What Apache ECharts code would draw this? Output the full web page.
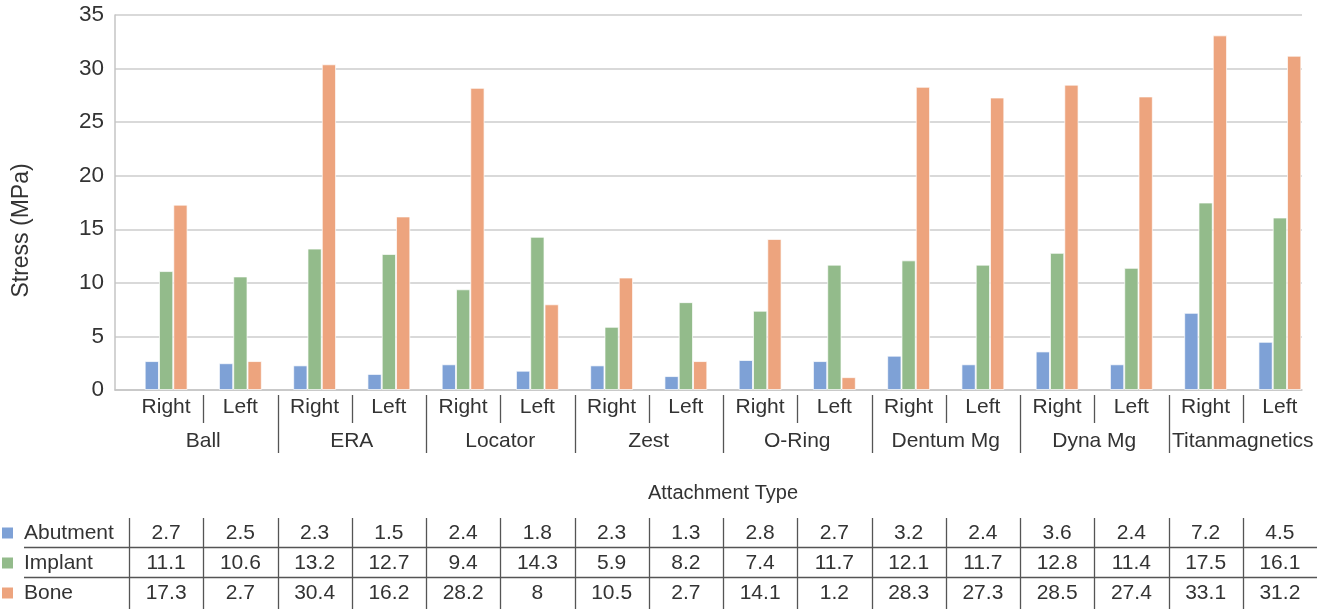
<!DOCTYPE html>
<html>
<head>
<meta charset="utf-8">
<script src="https://cdn.jsdelivr.net/npm/echarts@6/dist/echarts.min.js"></script>
<style>
html,body{margin:0;padding:0;background:#fff;}
#chart{width:1330px;height:609px;}
</style>
</head>
<body>
<div id="chart"></div>
<script>
// ---- data ----
const categories = ['Right','Left','Right','Left','Right','Left','Right','Left','Right','Left','Right','Left','Right','Left','Right','Left'];
const groups = ['Ball','ERA','Locator','Zest','O-Ring','Dentum Mg','Dyna Mg','Titanmagnetics'];
const seriesNames = ['Abutment','Implant','Bone'];
const abutment = [2.7,2.5,2.3,1.5,2.4,1.8,2.3,1.3,2.8,2.7,3.2,2.4,3.6,2.4,7.2,4.5];
const implant = [11.1,10.6,13.2,12.7,9.4,14.3,5.9,8.2,7.4,11.7,12.1,11.7,12.8,11.4,17.5,16.1];
const bone = [17.3,2.7,30.4,16.2,28.2,8,10.5,2.7,14.1,1.2,28.3,27.3,28.5,27.4,33.1,31.2];
const yTicks = [0,5,10,15,20,25,30,35];
const xTitle = 'Attachment Type';
const yTitle = 'Stress (MPa)';

// ---- style ----
const colors = ['#7ea1d6','#93bb8b','#eda47e'];
const FONT = 'Liberation Sans, Arial, sans-serif';
const TXT = '#333';
const LINE = '#555';

const chart = echarts.init(document.getElementById('chart'), null, {renderer:'canvas'});

const yMin = yTicks[0], yMax = yTicks[yTicks.length-1], yStep = yTicks[1]-yTicks[0];
const gridTop = 15, gridBottom = 219;

const allSeries = [abutment, implant, bone];

chart.setOption({
  animation:false,
  textStyle:{fontFamily:FONT},
  grid:[
    {left:129, right:13, top:gridTop, bottom:gridBottom},
    {left:115, right:28, top:gridTop, bottom:gridBottom}
  ],
  xAxis:[
    {type:'category', gridIndex:0, data:categories, position:'bottom',
     axisLine:{show:false}, axisTick:{show:false},
     axisLabel:{fontSize:21, color:TXT, margin:7, lineHeight:21, interval:0, fontFamily:FONT}},
    {type:'category', gridIndex:0, data:groups, position:'bottom', offset:34,
     axisLine:{show:false}, axisTick:{show:false},
     axisLabel:{fontSize:21, color:TXT, margin:7, lineHeight:21, interval:0, fontFamily:FONT},
     name:xTitle, nameLocation:'middle', nameGap:59,
     nameTextStyle:{fontSize:20, color:TXT, fontFamily:FONT}},
    {type:'value', gridIndex:1, min:0, max:1, show:true,
     axisLine:{show:true, lineStyle:{color:'#c4c4c4', width:1.5}},
     axisTick:{show:false}, axisLabel:{show:false}, splitLine:{show:false}}
  ],
  yAxis:[
    {type:'value', gridIndex:0, min:yMin, max:yMax, interval:yStep, show:false},
    {type:'value', gridIndex:1, min:yMin, max:yMax, interval:yStep,
     axisLine:{show:true, lineStyle:{color:'#c4c4c4', width:1.5}},
     axisTick:{show:false},
     axisLabel:{fontSize:22.5, color:TXT, margin:11, fontFamily:FONT},
     splitLine:{show:true, lineStyle:{color:'#cdcdcd', width:1.5}},
     name:yTitle, nameLocation:'middle', nameGap:82, nameRotate:90,
     nameTextStyle:{fontSize:23, color:TXT, fontFamily:FONT, padding:[0,56,0,0]}}
  ],
  series: seriesNames.map((n,i)=>({
    name:n, type:'bar', xAxisIndex:0, yAxisIndex:0,
    data:allSeries[i], barWidth:14.3, barGap:'0%',
    itemStyle:{color:colors[i], borderColor:'rgba(255,255,255,0.7)', borderWidth:1},
    z:3
  }))
});

// ---- dividers and data table, positioned from the category axis ----
const centers = categories.map((c,i)=>chart.convertToPixel({xAxisIndex:0}, i));
const band = (centers[centers.length-1]-centers[0])/(centers.length-1);
const leftEdge = centers[0]-band/2;
const rightEdge = centers[centers.length-1]+band/2;
const g = [];
const lineStyle = {stroke:LINE, lineWidth:1.3};
for (let i=1;i<categories.length;i++){
  const x = Math.round(centers[i]-band/2)+0.5;
  const isGroup = (i%2===0);
  g.push({type:'line', shape:{x1:x,y1:395,x2:x,y2:isGroup?453:423}, style:lineStyle, silent:true});
}
// table
const rowY = [533,563,593];
const tableTop = 518;
g.push({type:'line', shape:{x1:Math.round(leftEdge)+0.5,y1:tableTop,x2:Math.round(leftEdge)+0.5,y2:609}, style:lineStyle, silent:true});
for (let i=1;i<categories.length;i++){
  const x = Math.round(centers[i]-band/2)+0.5;
  g.push({type:'line', shape:{x1:x,y1:tableTop,x2:x,y2:609}, style:lineStyle, silent:true});
}
[547.5,577.5].forEach(y=>{
  g.push({type:'line', shape:{x1:24,y1:y,x2:rightEdge,y2:y}, style:lineStyle, silent:true});
});
seriesNames.forEach((n,r)=>{
  g.push({type:'rect', shape:{x:2,y:rowY[r]-5.5,width:11,height:11}, style:{fill:colors[r]}, silent:true});
  g.push({type:'text', x:24, y:rowY[r], style:{text:n, font:'21px '+FONT, fill:TXT, textAlign:'left', textVerticalAlign:'middle', verticalAlign:'middle'}, silent:true});
  allSeries[r].forEach((v,i)=>{
    g.push({type:'text', x:centers[i], y:rowY[r], style:{text:String(v), font:'21px '+FONT, fill:TXT, align:'center', verticalAlign:'middle', textAlign:'center', textVerticalAlign:'middle'}, silent:true});
  });
});
chart.setOption({graphic:g});
</script>
</body>
</html>
